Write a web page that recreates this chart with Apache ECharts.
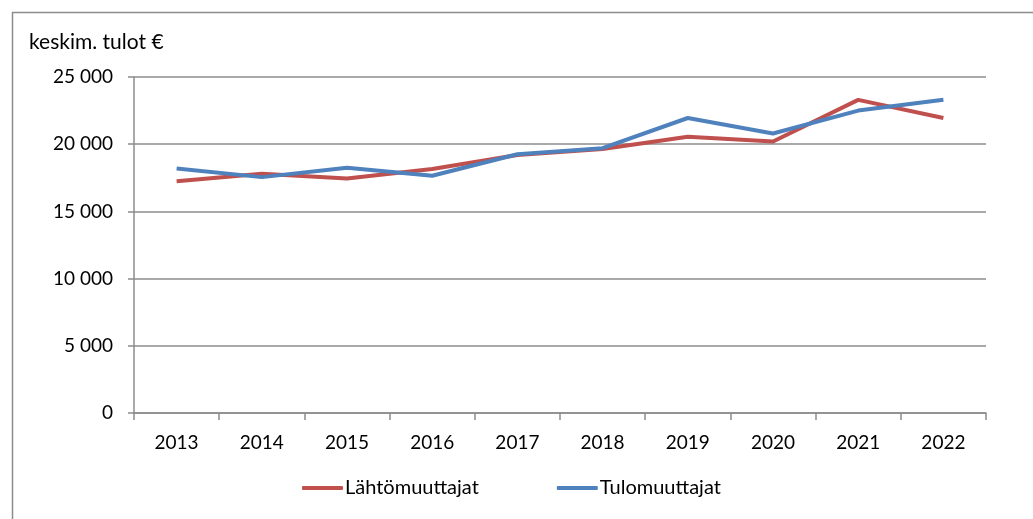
<!DOCTYPE html>
<html><head><meta charset="utf-8">
<script src="https://cdn.jsdelivr.net/npm/echarts@6/dist/echarts.min.js"></script>
<style>html,body{margin:0;padding:0;background:#fff}#c{width:1033px;height:519px}</style>
</head><body><div id="c"></div>
<script>
const years = ['2013','2014','2015','2016','2017','2018','2019','2020','2021','2022'];
const lahto = [17250, 17800, 17450, 18150, 19200, 19650, 20550, 20200, 23300, 21950];
const tulo  = [18200, 17550, 18250, 17650, 19250, 19700, 21950, 20800, 22500, 23300];
const yTitle = 'keskim. tulot €';
const FONT = 'Lato, "Open Sans", sans-serif';
const chart = echarts.init(document.getElementById('c'));
chart.setOption({
  animation: false,
  graphic: [{type:'rect', left:10, top:10, shape:{width:1100, height:700}, style:{fill:'none', stroke:'#8c8c8c', lineWidth:1.5}, silent:true},
            {type:'text', left:29, top:32, style:{text:yTitle, font:'21px ' + FONT, fill:'#000'}}],
  grid: {left:134, right:47, top:77, bottom:106},
  legend: {
    bottom: 16, left: 297,
    itemWidth: 41, itemHeight: 4, itemGap: 78,
    icon: 'roundRect',
    textStyle: {fontFamily: FONT, fontSize: 20, color: '#000', padding:[0,0,0,-3]},
    data: ['Lähtömuuttajat','Tulomuuttajat']
  },
  xAxis: {
    type:'category', data: years, boundaryGap: true,
    axisLine:{lineStyle:{color:'#8c8c8c', width:1.5}},
    axisTick:{show:true, length:7, lineStyle:{color:'#8c8c8c', width:1.5}},
    axisLabel:{fontFamily:FONT, fontSize:19, color:'#000', margin:20}
  },
  yAxis: {
    type:'value', min:0, max:25000, interval:5000,
    axisLine:{show:true, lineStyle:{color:'#8c8c8c', width:1.5}},
    axisTick:{show:true, inside:false, length:6, lineStyle:{color:'#8c8c8c', width:1.5}},
    splitLine:{lineStyle:{color:'#8c8c8c', width:1.5}},
    axisLabel:{fontFamily:FONT, fontSize:19, color:'#000', margin:21,
      formatter: v => v === 0 ? '0' : (v/1000) + ' 000'}
  },
  series: [
    {name:'Lähtömuuttajat', type:'line', data: lahto, symbol:'none', lineStyle:{color:'#C0504D', width:4}, itemStyle:{color:'#C0504D'}},
    {name:'Tulomuuttajat', type:'line', data: tulo, symbol:'none', lineStyle:{color:'#4F81BD', width:4}, itemStyle:{color:'#4F81BD'}}
  ]
});
</script></body></html>
